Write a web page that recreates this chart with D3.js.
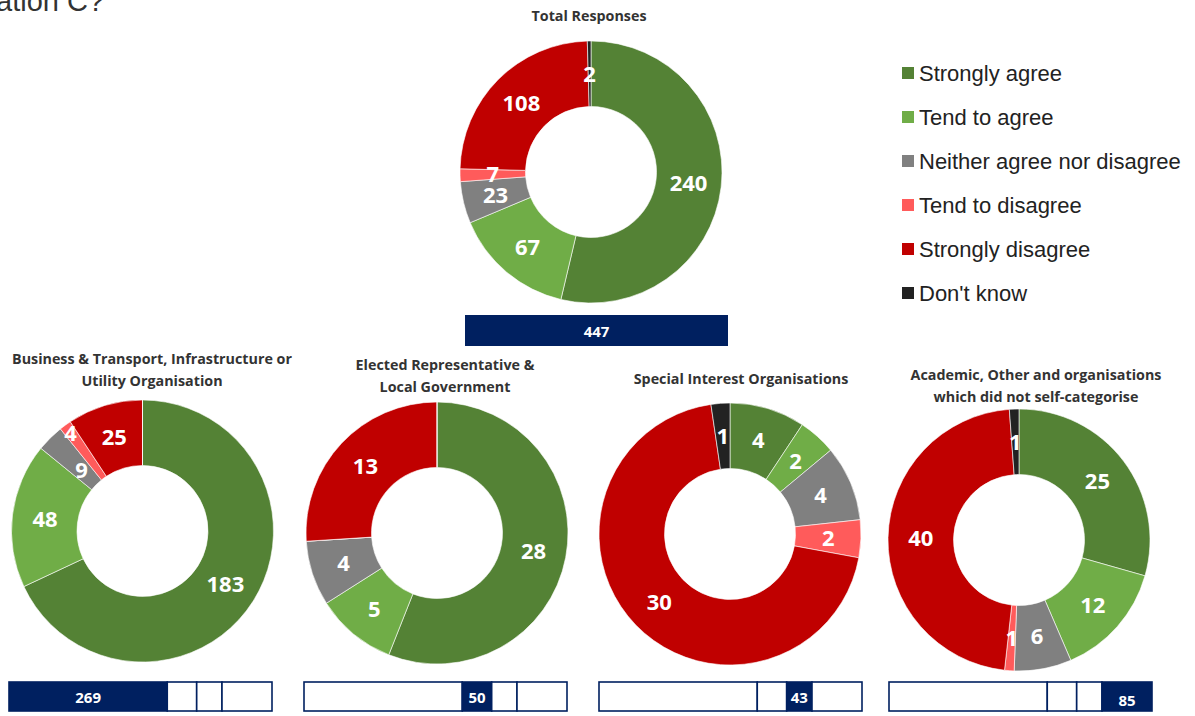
<!DOCTYPE html>
<html>
<head>
<meta charset="utf-8">
<script src="https://cdn.jsdelivr.net/npm/d3@7"></script>
<style>
html,body{margin:0;padding:0;background:#fff;}
svg{display:block;}
</style>
</head>
<body>
<svg id="chart" width="1195" height="716"></svg>
<script>
const categories = ["Strongly agree","Tend to agree","Neither agree nor disagree","Tend to disagree","Strongly disagree","Don't know"];
const colors = ["#548235","#70AD47","#808080","#FF5B5B","#C00000","#222222"];
const totalValues = [240,67,23,7,108,2];
const businessValues = [183,48,9,4,25,0];
const electedValues = [28,5,4,0,13,0];
const specialValues = [4,2,4,2,30,1];
const academicValues = [25,12,6,1,40,1];
const groupTitles = [
  ["Business & Transport, Infrastructure or","Utility Organisation"],
  ["Elected Representative &","Local Government"],
  ["Special Interest Organisations"],
  ["Academic, Other and organisations","which did not self-categorise"]
];
const groupTotals = [269,50,43,85];
const totalTitle = "Total Responses";
const totalCount = 447;

const svg = d3.select("#chart");
const color = d3.scaleOrdinal().domain(categories).range(colors);
const labelFont = "'Open Sans', sans-serif";

svg.append("text").attr("x",-4).attr("y",11)
  .attr("font-family","'Liberation Sans', Arial, sans-serif").attr("font-size",29).attr("fill","#333")
  .text("ation C?");

// label radius adjustments (fraction of ring mid radius) for crowded small slices
function donut(values, cx, cy, r, labelAdjust) {
  labelAdjust = labelAdjust || {};
  const g = svg.append("g").attr("transform",`translate(${cx},${cy})`);
  const data = categories.map((c,i)=>({cat:c, value:values[i]}));
  const pie = d3.pie().value(d=>d.value).sort(null);
  const arc = d3.arc().innerRadius(r*0.5).outerRadius(r);
  const arcs = pie(data);
  g.selectAll("path").data(arcs).join("path")
    .attr("d",arc).attr("fill",d=>color(d.data.cat))
    .attr("stroke","#fff").attr("stroke-width",0.6);
  g.selectAll("text").data(arcs.filter(d=>d.data.value>0)).join("text")
    .attr("transform",d=>{
      const k = labelAdjust[d.data.cat] || 1;
      const [x,y] = arc.centroid(d);
      return `translate(${x*k},${y*k})`;
    })
    .attr("text-anchor","middle").attr("dy","0.36em")
    .attr("font-family",labelFont).attr("font-weight",700).attr("font-size",22)
    .attr("fill","#fff").text(d=>d.data.value);
}

function title(lines, cx, y0, lh) {
  const t = svg.append("text").attr("text-anchor","middle")
    .attr("font-family","'Open Sans', sans-serif").attr("font-weight",700).attr("font-size",14.3).attr("fill","#333");
  lines.forEach((l,i)=>t.append("tspan").attr("x",cx).attr("y",y0+i*lh).text(l));
}

// Total
title([totalTitle], 589, 21, 0);
donut(totalValues, 591, 172, 131);
svg.append("rect").attr("x",465).attr("y",315).attr("width",263).attr("height",31).attr("fill","#002060");
svg.append("text").attr("x",596.5).attr("y",337).attr("text-anchor","middle")
  .attr("font-family",labelFont).attr("font-weight",700).attr("font-size",15).attr("fill","#fff").text(totalCount);

const groups = [
  {vals:businessValues, cx:142.5, cy:531, tx:152, ty:364, barX:9,
   adjust:{"Tend to disagree":1.24, "Neither agree nor disagree":0.88}},
  {vals:electedValues, cx:437, cy:533, tx:445, ty:370, barX:304},
  {vals:specialValues, cx:730, cy:534, tx:741, ty:384, barX:599},
  {vals:academicValues, cx:1019, cy:540, tx:1036, ty:380, barX:889}
];
const barW = 263;
const cum = [0];
groupTotals.forEach((v,i)=>cum.push(cum[i]+v));
groups.forEach((gp,i)=>{
  title(groupTitles[i], gp.tx, gp.ty, 22);
  donut(gp.vals, gp.cx, gp.cy, 131, gp.adjust);
  const x = d3.scaleLinear().domain([0,cum[cum.length-1]]).range([gp.barX, gp.barX+barW]);
  const bg = svg.append("g");
  groupTotals.forEach((v,j)=>{
    bg.append("rect").attr("x",x(cum[j])).attr("y",682).attr("width",x(cum[j+1])-x(cum[j])).attr("height",29)
      .attr("fill", j===i ? "#002060" : "#fff").attr("stroke","#002060").attr("stroke-width",1.6);
  });
  bg.append("text").attr("x",(x(cum[i])+x(cum[i+1]))/2).attr("y", i===3 ? 706 : 703).attr("text-anchor","middle")
    .attr("font-family",labelFont).attr("font-weight",700).attr("font-size",15).attr("fill","#fff").text(groupTotals[i]);
});

// Legend
const lg = svg.append("g");
categories.forEach((c,i)=>{
  const y = 73 + i*44;
  lg.append("rect").attr("x",902).attr("y",y-6).attr("width",12).attr("height",12).attr("fill",color(c));
  lg.append("text").attr("x",919).attr("y",y).attr("dy","0.35em")
    .attr("font-family","'Liberation Sans', Arial, sans-serif").attr("font-size",22).attr("fill","#222").text(c);
});
</script>
</body>
</html>
